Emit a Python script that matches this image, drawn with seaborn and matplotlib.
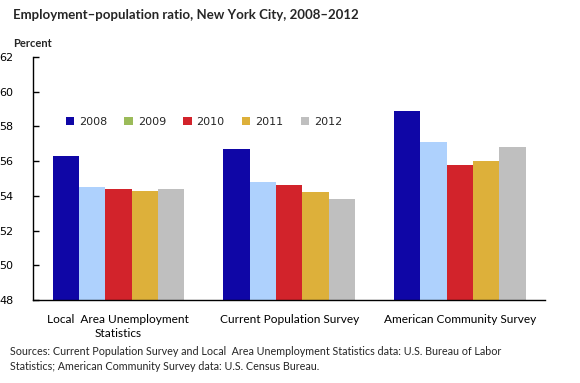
#!/usr/bin/python3

from matplotlib import pyplot as plt
from matplotlib.patches import Patch
import pandas as pd
import seaborn as sns

# data
surveys = ['Local  Area Unemployment\nStatistics', 'Current Population Survey', 'American Community Survey']
years = ['2008', '2009', '2010', '2011', '2012']
ratio_2008 = [56.3, 56.7, 58.9]
ratio_2009 = [54.5, 54.8, 57.1]
ratio_2010 = [54.4, 54.6, 55.8]
ratio_2011 = [54.3, 54.2, 56.0]
ratio_2012 = [54.4, 53.8, 56.8]

bar_colors = ['#0f06a6', '#aed1fd', '#d2232b', '#ddb03a', '#bfbfbf']
# the original legend shows 2009 in green, unlike its bars
legend_colors = ['#0f06a6', '#9bbb59', '#d2232b', '#ddb03a', '#bfbfbf']


def build_frame() -> pd.DataFrame:
    rows = []
    for year, values in zip(years, [ratio_2008, ratio_2009, ratio_2010, ratio_2011, ratio_2012]):
        for survey, value in zip(surveys, values):
            rows.append({'survey': survey, 'year': year, 'ratio': value})
    return pd.DataFrame(rows)


def plot_ratio(df: pd.DataFrame, fig_location: str = 'out.png'):
    sns.set_theme(style='white')
    plt.rcParams['font.family'] = ['DejaVu Sans']

    fig = plt.figure(figsize=(5.8, 3.83), dpi=100)
    ax = fig.add_axes([0.057, 0.2167, 0.883, 0.6343])

    sns.barplot(data=df, x='survey', y='ratio', hue='year', order=surveys, hue_order=years,
                palette=bar_colors, width=0.77, saturation=1, linewidth=0, ax=ax, legend=False)

    ax.set_ylim(48, 62)
    ax.set_yticks(range(48, 63, 2))
    ax.set_xlim(-0.5, 2.5)
    ax.set_xlabel('')
    ax.set_ylabel('')

    for side in ['top', 'right']:
        ax.spines[side].set_visible(False)
    for side in ['left', 'bottom']:
        ax.spines[side].set_color('black')
        ax.spines[side].set_linewidth(1.0)

    ax.tick_params(axis='y', direction='in', length=4, width=1, color='black',
                   labelsize=8, labelcolor='black', left=True, pad=14)
    ax.tick_params(axis='x', length=0, labelcolor='black', pad=10)
    for lbl in ax.get_xticklabels():
        lbl.set_linespacing(1.3)
        lbl.set_fontsize(8.6)
        lbl.set_family(['Lato', 'DejaVu Sans'])

    handles = [Patch(facecolor=c, edgecolor='none') for c in legend_colors]
    ax.legend(handles, years, ncol=5, frameon=False, loc='center left',
              bbox_to_anchor=(0.055, 0.733), fontsize=8, handlelength=0.75, handleheight=0.75,
              handletextpad=0.45, columnspacing=1.55, borderaxespad=0)

    fig.text(0.022, 0.962, 'Employment\u2013population ratio, New York City, 2008\u20132012',
             fontsize=9.5, fontweight='bold', family=['Lato', 'DejaVu Sans'], va='center')
    fig.text(0.022, 0.886, 'Percent', fontsize=8, fontweight='bold',
             family=['Lato', 'DejaVu Sans'], va='center')
    fig.text(0.017, 0.062, 'Sources: Current Population Survey and Local  Area Unemployment Statistics data: '
             'U.S. Bureau of Labor\nStatistics; American Community Survey data: U.S. Census Bureau.',
             fontsize=7.75, family=['Lato', 'DejaVu Sans'], va='center', linespacing=1.45)

    fig.savefig(fig_location, dpi=100)


if __name__ == '__main__':
    plot_ratio(build_frame())
